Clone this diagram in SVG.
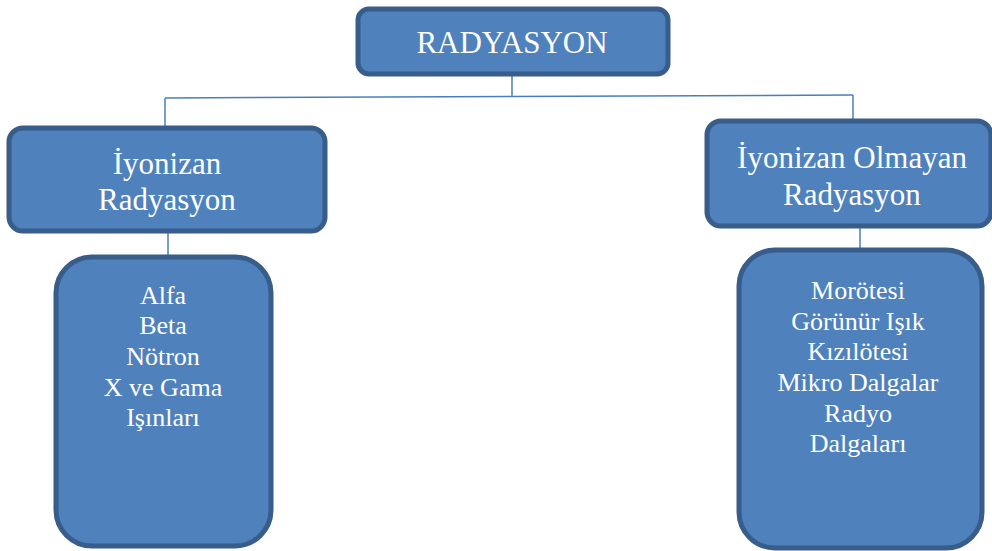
<svg xmlns="http://www.w3.org/2000/svg" width="992" height="551" viewBox="0 0 992 551">
<style>
.box{fill:#4f81bd;stroke:#385d8a;stroke-width:5}
.conn{stroke:#4a7ebb;stroke-width:1.5;fill:none}
text{font-family:"Liberation Serif","Times New Roman",serif;fill:#ffffff;text-anchor:middle}
.big{font-size:31px}
.small{font-size:26px}
</style>
<rect x="0" y="0" width="992" height="551" fill="#ffffff"/>
<g id="connectors">
<line class="conn" x1="512" y1="76" x2="512" y2="97"/>
<line class="conn" x1="165" y1="98" x2="853" y2="95"/>
<line class="conn" x1="165" y1="98" x2="165" y2="126"/>
<line class="conn" x1="853" y1="95" x2="853" y2="120"/>
<line class="conn" x1="168" y1="232" x2="168" y2="256"/>
<line class="conn" x1="860" y1="227" x2="860" y2="249"/>
</g>
<g id="radyasyon">
<rect class="box" x="358" y="9" width="310" height="65" rx="11"/>
<text class="big" x="512" y="53">RADYASYON</text>
</g>
<g id="iyonizan">
<rect class="box" x="9" y="128" width="316" height="103" rx="14"/>
<text class="big" x="167" y="174">İyonizan</text>
<text class="big" x="167" y="210">Radyasyon</text>
</g>
<g id="iyonizan-olmayan">
<rect class="box" x="707" y="121" width="284" height="105" rx="14"/>
<text class="big" x="852" y="168">İyonizan Olmayan</text>
<text class="big" x="852" y="205">Radyasyon</text>
</g>
<g id="iyonizan-list">
<rect class="box" x="56" y="257" width="215" height="289" rx="36"/>
<text class="small" x="163" y="304">Alfa</text>
<text class="small" x="163" y="334">Beta</text>
<text class="small" x="163" y="365">Nötron</text>
<text class="small" x="163" y="396">X ve Gama</text>
<text class="small" x="163" y="426">Işınları</text>
</g>
<g id="olmayan-list">
<rect class="box" x="739" y="250" width="243" height="298" rx="36"/>
<text class="small" x="858" y="299">Morötesi</text>
<text class="small" x="858" y="330">Görünür Işık</text>
<text class="small" x="858" y="360">Kızılötesi</text>
<text class="small" x="858" y="391">Mikro Dalgalar</text>
<text class="small" x="858" y="422">Radyo</text>
<text class="small" x="858" y="452">Dalgaları</text>
</g>
</svg>
